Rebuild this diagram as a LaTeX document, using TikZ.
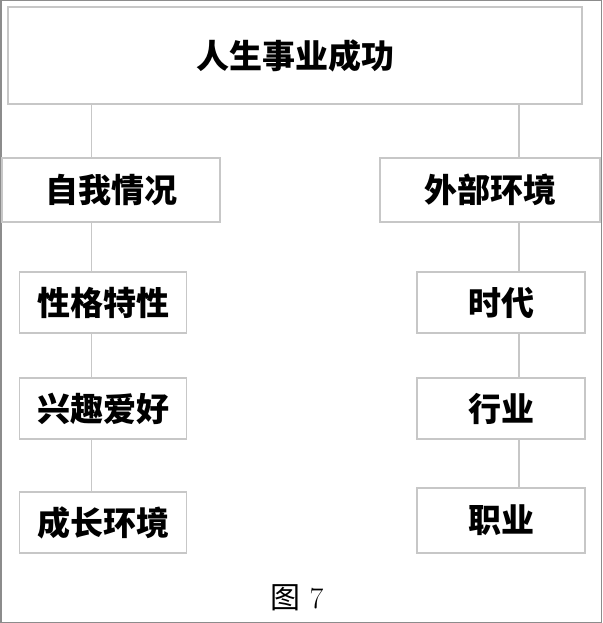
\documentclass[tikz,border=0pt]{standalone}
\usepackage{fontspec}
\newfontfamily\cjk{Noto Sans CJK SC}
\begin{document}
\begin{tikzpicture}[x=1pt,y=-1pt,
  box/.style={draw=black!22, line width=1.5pt, minimum height=61pt, inner sep=2pt,
    font=\cjk\bfseries\fontsize{33}{36}\selectfont},
  link/.style={draw=black!22, line width=1.5pt}]
\useasboundingbox (0,0) rectangle (602,623);
\draw[black!45, line width=1.5pt] (0.75,0.75) rectangle (601.25,622.25);
% top
\node[box, minimum width=574pt, minimum height=97pt] (goal) at (295,55.5) {人生事业成功};
% left column
\node[box, minimum width=218pt, minimum height=64pt] (self) at (111,190) {自我情况};
\node[box, minimum width=167pt] (trait) at (103,302.5) {性格特性};
\node[box, minimum width=167pt] (hobby) at (103,408.5) {兴趣爱好};
\node[box, minimum width=167pt] (grow) at (103,522.5) {成长环境};
% right column
\node[box, minimum width=220pt, minimum height=64pt] (env) at (490,190) {外部环境};
\node[box, minimum width=168pt] (era) at (501,302.5) {时代};
\node[box, minimum width=168pt] (trade) at (501,408.5) {行业};
\node[box, minimum width=168pt, minimum height=65pt] (job) at (501,520.5) {职业};
% caption
\node[font=\fontsize{30}{34}\selectfont] (cap) at (297,598) {{\cjk 图} 7};
% connectors
\coordinate (lx) at (91.5,0);
\coordinate (rx) at (519,0);
\draw[link] (goal.south -| lx) -- (self.north -| lx);
\draw[link] (self.south -| lx) -- (trait.north -| lx);
\draw[link] (trait.south -| lx) -- (hobby.north -| lx);
\draw[link] (hobby.south -| lx) -- (grow.north -| lx);
\draw[link] (goal.south -| rx) -- (env.north -| rx);
\draw[link] (env.south -| rx) -- (era.north -| rx);
\draw[link] (era.south -| rx) -- (trade.north -| rx);
\draw[link] (trade.south -| rx) -- (job.north -| rx);
\end{tikzpicture}
\end{document}
